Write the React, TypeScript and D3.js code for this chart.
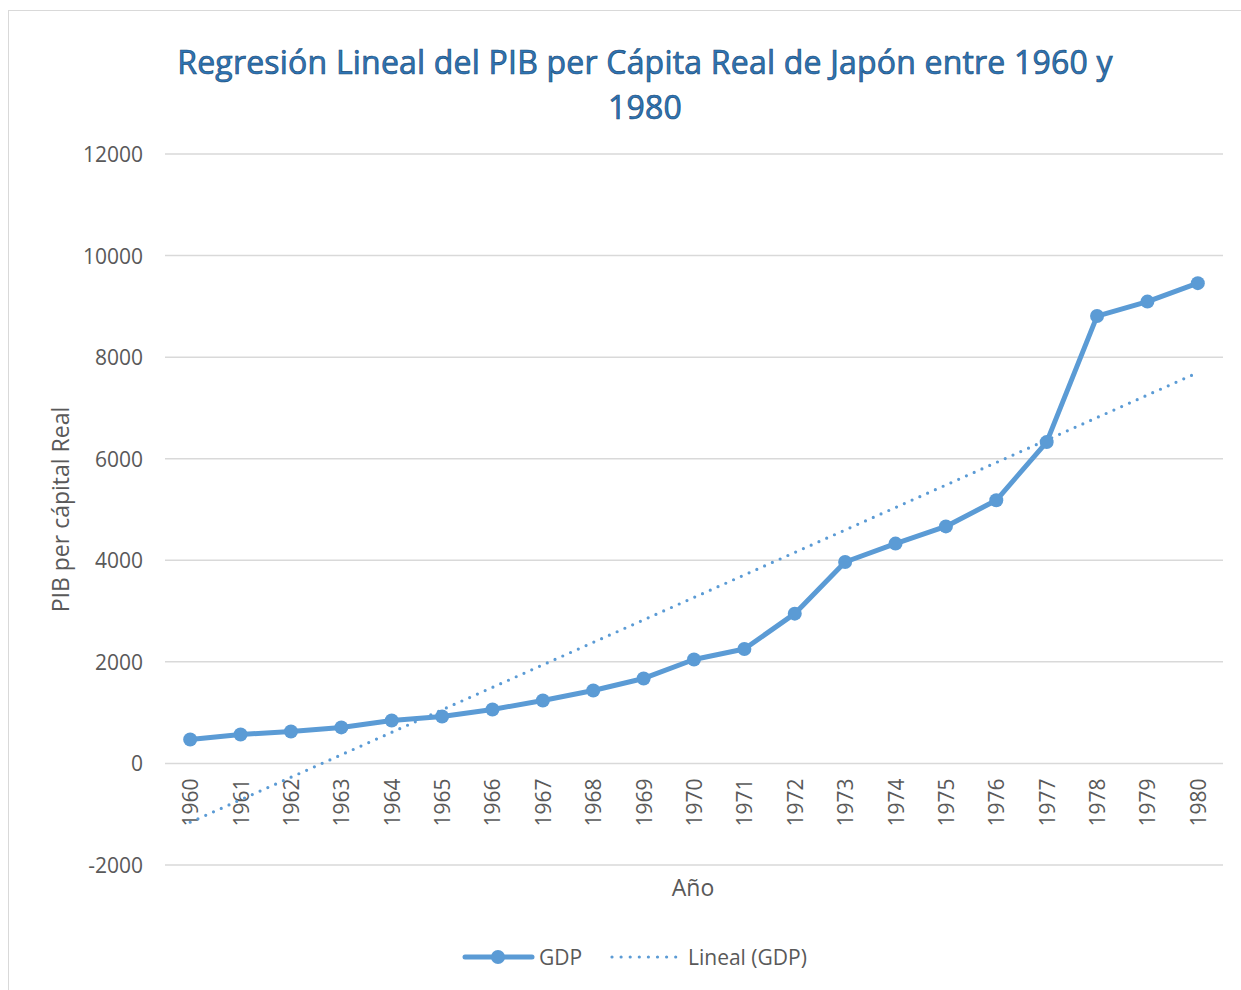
import * as d3 from 'd3';
import { useMemo } from 'react';

const years = d3.range(1960, 1981).map(String);
const gdp = [
  472, 571, 630, 709, 846, 925, 1063, 1240, 1437, 1673, 2047, 2254, 2949, 3966,
  4329, 4667, 5181, 6327, 8809, 9094, 9457,
];
const yTicks = [-2000, 0, 2000, 4000, 6000, 8000, 10000, 12000];

const WIDTH = 1241;
const HEIGHT = 990;
const PLOT = { left: 165, right: 1223, top: 154, bottom: 865 };
const BLUE = '#5B9BD5';
const GRID = '#D9D9D9';
const TEXT = '#595959';
const FONT = '"Open Sans", "Liberation Sans", sans-serif';

export default function App() {
  const xScale = useMemo(
    () => d3.scaleBand().domain(years).range([PLOT.left, PLOT.right]),
    [],
  );
  const yScale = useMemo(
    () => d3.scaleLinear().domain([-2000, 12000]).range([PLOT.bottom, PLOT.top]),
    [],
  );
  const cx = (y: string) => (xScale(y) ?? 0) + xScale.bandwidth() / 2;

  // least squares fit, same as Excel's linear trendline
  const idx = gdp.map((_, i) => i);
  const mx = d3.mean(idx)!;
  const my = d3.mean(gdp)!;
  const slope =
    d3.sum(idx, (i) => (i - mx) * (gdp[i] - my)) /
    d3.sum(idx, (i) => (i - mx) ** 2);
  const intercept = my - slope * mx;
  const first = years[0];
  const last = years[years.length - 1];

  const line = d3
    .line<number>()
    .x((_, i) => cx(years[i]))
    .y((d) => yScale(d));

  return (
    <svg
      width={WIDTH}
      height={HEIGHT}
      style={{ position: 'absolute', left: 0, top: 0, background: '#fff' }}
      fontFamily={FONT}
    >
      <rect x={8.5} y={10.5} width={1300} height={1100} fill="#fff" stroke={GRID} />

      <g
        textAnchor="middle"
        fontSize={32}
        fill="#2E75B6"
        stroke="#1F4E79"
        strokeWidth={0.7}
        letterSpacing={0.2}
      >
        <text x={645} y={74}>
          Regresión Lineal del PIB per Cápita Real de Japón entre 1960 y
        </text>
        <text x={645} y={119}>
          1980
        </text>
      </g>

      {yTicks.map((t) => (
        <g key={t}>
          <line
            x1={PLOT.left}
            x2={PLOT.right}
            y1={yScale(t)}
            y2={yScale(t)}
            stroke={GRID}
            strokeWidth={1.5}
          />
          <text
            x={143}
            y={yScale(t)}
            textAnchor="end"
            dominantBaseline="central"
            fontSize={21}
            fill={TEXT}
          >
            {t}
          </text>
        </g>
      ))}

      {years.map((y) => (
        <text
          key={y}
          transform={`translate(${cx(y)},${yScale(0) + 15}) rotate(-90)`}
          textAnchor="end"
          dominantBaseline="central"
          fontSize={21}
          fill={TEXT}
        >
          {y}
        </text>
      ))}

      <text
        transform={`translate(60,${(PLOT.top + PLOT.bottom) / 2}) rotate(-90)`}
        textAnchor="middle"
        dominantBaseline="central"
        fontSize={23}
        fill={TEXT}
      >
        PIB per cápital Real
      </text>
      <text x={693} y={887} textAnchor="middle" dominantBaseline="central" fontSize={23} fill={TEXT}>
        Año
      </text>

      <line
        x1={cx(first)}
        x2={cx(last)}
        y1={yScale(intercept)}
        y2={yScale(intercept + slope * (years.length - 1))}
        stroke={BLUE}
        strokeWidth={3.2}
        strokeDasharray="0 8.5"
        strokeLinecap="round"
      />

      <path d={line(gdp) ?? ''} fill="none" stroke={BLUE} strokeWidth={5} strokeLinejoin="round" />
      {gdp.map((v, i) => (
        <circle key={years[i]} cx={cx(years[i])} cy={yScale(v)} r={7} fill={BLUE} />
      ))}

      <g fontSize={21} fill={TEXT}>
        <line x1={465} x2={532} y1={957} y2={957} stroke={BLUE} strokeWidth={5} strokeLinecap="round" />
        <circle cx={498} cy={957} r={7} fill={BLUE} />
        <text x={539} y={957} dominantBaseline="central">
          GDP
        </text>
        <line
          x1={612}
          x2={676}
          y1={957}
          y2={957}
          stroke={BLUE}
          strokeWidth={3.2}
          strokeDasharray="0 9.1"
          strokeLinecap="round"
        />
        <text x={688} y={957} dominantBaseline="central">
          Lineal (GDP)
        </text>
      </g>
    </svg>
  );
}
